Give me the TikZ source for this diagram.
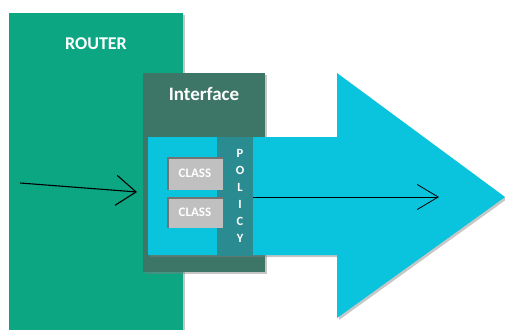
\documentclass[tikz,border=0pt]{standalone}
\usepackage{fontspec}
\setmainfont{Carlito}
\usetikzlibrary{arrows.meta,positioning,shadows}

\definecolor{routergreen}{RGB}{12,166,131}
\definecolor{ifacegreen}{RGB}{61,117,102}
\definecolor{flowcyan}{RGB}{10,196,222}
\definecolor{policyteal}{RGB}{42,140,145}
\definecolor{classgray}{RGB}{192,192,192}

\begin{document}
\begin{tikzpicture}[x=1pt,y=-1pt,
    panel/.style={rectangle, inner sep=0pt, anchor=north west},
    title/.style={text=white, font=\bfseries\fontsize{19}{19}\selectfont, anchor=base},
    classbox/.style={rectangle, fill=classgray, text=white, inner sep=0pt,
        minimum width=56pt, minimum height=32pt, font=\bfseries\fontsize{13}{13}\selectfont,
        path picture={\draw[line width=3pt, black!55] (path picture bounding box.south west) |- (path picture bounding box.north east);}},
    dropshade/.style={drop shadow={shadow xshift=2pt, shadow yshift=-2pt, opacity=.45}},
    flow/.style={draw=black, line width=1.1pt, -{Straight Barb[length=20pt, width=30pt, line width=1.1pt]}},
    flowthin/.style={draw=black, line width=.8pt, -{Straight Barb[length=21pt, width=25pt, line width=.8pt]}}
]
\clip (0,0) rectangle (505,329);

% router
\node[panel, fill=routergreen, dropshade, minimum width=174pt, minimum height=340pt] (router) at (9,13) {};
\node[title, font=\bfseries\fontsize{18}{18}\selectfont] (routerlabel) at (96,49) {ROUTER};

% interface
\node[panel, fill=ifacegreen, dropshade, minimum width=122pt, minimum height=199pt] (iface) at (143,73) {};
\node[title] (ifacelabel) at (204,100) {Interface};

% traffic flow
\fill[flowcyan, dropshade] (148,137) -- (337,137) -- (337,73) -- (505,197)
    -- (337,318) -- (337,255) -- (148,255) -- cycle;

% policy and classes
\node[panel, fill=policyteal, minimum width=36pt, minimum height=119pt] (policy) at (217,137) {};
\node[text=white, align=center, font=\bfseries\fontsize{12.5}{17}\selectfont] (policylabel) at (240,196) {P\\O\\L\\I\\C\\Y};
\node[classbox] (class1) at (195,173.5) {CLASS};
\node[classbox, minimum height=31pt] (class2) at (195,212.5) {CLASS};

% arrows
\coordinate (inflow) at (20,183);
\coordinate (intip) at (137,192);
\coordinate (outflow) at (439,197);
\draw[flow] (inflow) -- (intip);
\draw[flowthin] (policy.east |- outflow) -- (outflow);
\end{tikzpicture}
\end{document}
